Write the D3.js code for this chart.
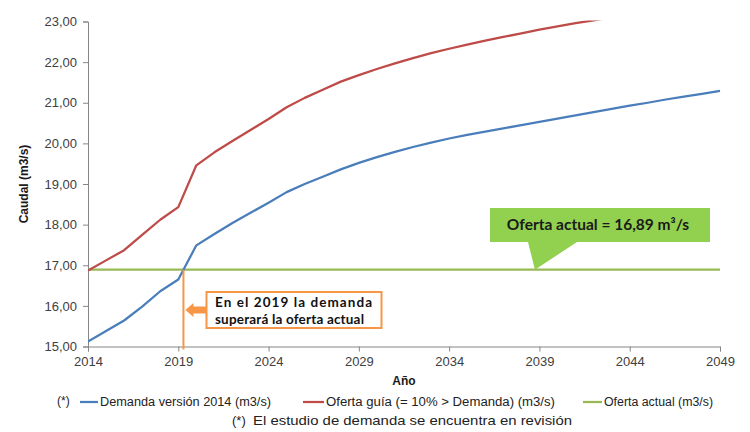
<!DOCTYPE html>
<html>
<head>
<meta charset="utf-8">
<script src="https://cdn.jsdelivr.net/npm/d3@7"></script>
<style>
  html, body { margin: 0; padding: 0; background: #fff; }
  svg { display: block; }
</style>
</head>
<body>
<svg id="chart" width="750" height="432"></svg>
<script>
// Years on the horizontal axis
const years = d3.range(2014, 2050);

// Demanda versión 2014 (m3/s)
const demanda = [
  15.12, 15.38, 15.64, 15.98, 16.36, 16.65, 17.49, 17.77, 18.04, 18.29,
  18.54, 18.80, 19.00, 19.18, 19.36, 19.52, 19.66, 19.79, 19.91, 20.02,
  20.12, 20.21, 20.29, 20.37, 20.45, 20.53, 20.61, 20.69, 20.77, 20.85,
  20.93, 21.00, 21.08, 21.15, 21.22, 21.29
];

// Oferta guía (= 10% > Demanda) (m3/s)
const ofertaGuia = [
  16.87, 17.12, 17.37, 17.75, 18.12, 18.43, 19.46, 19.78, 20.06, 20.33,
  20.60, 20.89, 21.12, 21.32, 21.52, 21.68, 21.83, 21.97, 22.10, 22.22,
  22.33, 22.43, 22.53, 22.62, 22.71, 22.80, 22.88, 22.96, 23.03, 23.10,
  23.17, 23.24, 23.31, 23.38, 23.45, 23.52
];

// Oferta actual (m3/s), constant over the period
const ofertaActual = 16.89;

// Axis ticks
const xTicks = [2014, 2019, 2024, 2029, 2034, 2039, 2044, 2049];
const yTicks = [15, 16, 17, 18, 19, 20, 21, 22, 23];

// Series names for the legend
const seriesNames = [
  "Demanda versión 2014 (m3/s)",
  "Oferta guía (= 10% > Demanda) (m3/s)",
  "Oferta actual (m3/s)"
];
const seriesColors = ["#4a7ebb", "#be4b48", "#98b954"];

(function draw() {
  const svg = d3.select("#chart");
  const mLeft = 88, mRight = 720, mTop = 21.5, mBottom = 346.5;

  const x = d3.scaleLinear().domain([2014, 2049]).range([mLeft, mRight]);
  const y = d3.scaleLinear().domain([15, 23]).range([mBottom, mTop]);

  const numFmt = v => d3.format(".2f")(v).replace(".", ",");

  // Clip area for the plotted series
  svg.append("defs").append("clipPath").attr("id", "plotClip")
    .append("rect")
    .attr("x", mLeft).attr("y", mTop - 1)
    .attr("width", mRight - mLeft + 2).attr("height", mBottom - mTop + 2);

  // Y axis
  const yAxis = svg.append("g")
    .attr("transform", `translate(${mLeft},0)`)
    .call(d3.axisLeft(y).tickValues(yTicks).tickFormat(numFmt).tickSize(5).tickPadding(6));
  // X axis
  const xAxis = svg.append("g")
    .attr("transform", `translate(0,${mBottom})`)
    .call(d3.axisBottom(x).tickValues(xTicks).tickFormat(d3.format("d")).tickSize(5).tickPadding(5));

  [yAxis, xAxis].forEach(g => {
    g.select(".domain").attr("stroke", "#868686").attr("stroke-width", 1);
    g.selectAll(".tick line").attr("stroke", "#868686");
    g.selectAll(".tick text")
      .attr("fill", "#404040")
      .style("font-family", "'Liberation Sans', Arial, sans-serif")
      .style("font-size", "13px");
  });

  // Axis titles
  svg.append("text")
    .attr("transform", `translate(28,${(mTop + mBottom) / 2}) rotate(-90)`)
    .attr("text-anchor", "middle")
    .style("font-family", "'Liberation Sans', Arial, sans-serif")
    .style("font-size", "12px").style("font-weight", "bold")
    .attr("fill", "#1a1a1a")
    .text("Caudal (m3/s)");

  svg.append("text")
    .attr("x", (mLeft + mRight) / 2).attr("y", 385)
    .attr("text-anchor", "middle")
    .style("font-family", "'Liberation Sans', Arial, sans-serif")
    .style("font-size", "12px").style("font-weight", "bold")
    .attr("fill", "#1a1a1a")
    .text("Año");

  // Series lines
  const line = d3.line().x((d, i) => x(years[i])).y(d => y(d));
  const plot = svg.append("g").attr("clip-path", "url(#plotClip)");

  plot.append("path")
    .datum(years.map(() => ofertaActual))
    .attr("d", line)
    .attr("fill", "none").attr("stroke", seriesColors[2]).attr("stroke-width", 2.25);

  plot.append("path")
    .datum(ofertaGuia)
    .attr("d", line)
    .attr("fill", "none").attr("stroke", seriesColors[1]).attr("stroke-width", 2.25)
    .attr("stroke-linejoin", "round");

  plot.append("path")
    .datum(demanda)
    .attr("d", line)
    .attr("fill", "none").attr("stroke", seriesColors[0]).attr("stroke-width", 2.25)
    .attr("stroke-linejoin", "round");

  // Year in which the demand first exceeds the current supply
  let crossYear = years[0];
  for (let i = 1; i < demanda.length; i++) {
    if (demanda[i - 1] < ofertaActual && demanda[i] >= ofertaActual) {
      crossYear = years[i - 1] + (ofertaActual - demanda[i - 1]) / (demanda[i] - demanda[i - 1]);
      break;
    }
  }
  const cx = x(crossYear);

  // Orange marker line at the crossing
  svg.append("line")
    .attr("x1", cx).attr("x2", cx)
    .attr("y1", y(ofertaActual)).attr("y2", mBottom + 3)
    .attr("stroke", "#f79646").attr("stroke-width", 2);

  // Orange arrow pointing to the marker line
  const arrowY = 310;
  svg.append("path")
    .attr("d", `M${cx + 2},${arrowY} L${cx + 10},${arrowY - 7} L${cx + 10},${arrowY - 3.5}
                L${cx + 23},${arrowY - 3.5} L${cx + 23},${arrowY + 3.5} L${cx + 10},${arrowY + 3.5}
                L${cx + 10},${arrowY + 7} Z`)
    .attr("fill", "#f79646");

  // Orange note box
  const boxX = 206.5, boxY = 292, boxW = 175, boxH = 36;
  svg.append("rect")
    .attr("x", boxX).attr("y", boxY).attr("width", boxW).attr("height", boxH)
    .attr("fill", "#fff").attr("stroke", "#f79646").attr("stroke-width", 2);

  const noteFont = "Lato, 'Open Sans', 'Liberation Sans', sans-serif";
  svg.append("text")
    .attr("x", boxX + 8.5).attr("y", boxY + 14.5)
    .attr("textLength", 157).attr("lengthAdjust", "spacing")
    .style("font-family", noteFont).style("font-size", "13.5px").style("font-weight", "bold")
    .attr("fill", "#111")
    .text(`En el ${Math.floor(crossYear)} la demanda`);
  svg.append("text")
    .attr("x", boxX + 8.5).attr("y", boxY + 32)
    .attr("textLength", 149).attr("lengthAdjust", "spacing")
    .style("font-family", noteFont).style("font-size", "13.5px").style("font-weight", "bold")
    .attr("fill", "#111")
    .text("superará la oferta actual");

  // Green callout for the current supply
  const cBoxX = 490, cBoxY = 208, cBoxW = 220, cBoxH = 34;
  const tipX = x(2038.75), tipY = y(ofertaActual);
  svg.append("path")
    .attr("d", `M${cBoxX},${cBoxY} H${cBoxX + cBoxW} V${cBoxY + cBoxH} H${cBoxX + 87}
                L${tipX},${tipY} L${cBoxX + 38},${cBoxY + cBoxH} H${cBoxX} Z`)
    .attr("fill", "#92d050");

  svg.append("text")
    .attr("x", 598).attr("y", cBoxY + 22)
    .attr("text-anchor", "middle")
    .style("font-family", noteFont).style("font-size", "15.5px").style("font-weight", "bold")
    .attr("fill", "#1a1a1a")
    .text(`Oferta actual = ${numFmt(ofertaActual)} m³/s`);

  // Legend
  const legFont = "'Liberation Sans Narrow', 'Liberation Sans', Arial, sans-serif";
  const legY = 406;
  svg.append("text")
    .attr("x", 57).attr("y", legY - 1)
    .style("font-family", "'Liberation Sans', Arial, sans-serif").style("font-size", "12px")
    .attr("fill", "#222").text("(*)");

  const legendItems = [
    { x0: 80, x1: 98, tx: 100, tl: 171 },
    { x0: 303, x1: 324, tx: 326, tl: 229 },
    { x0: 583, x1: 602, tx: 604, tl: 109 }
  ];
  legendItems.forEach((it, i) => {
    svg.append("line")
      .attr("x1", it.x0).attr("x2", it.x1)
      .attr("y1", legY - 4).attr("y2", legY - 4)
      .attr("stroke", seriesColors[i]).attr("stroke-width", 2.25);
    svg.append("text")
      .attr("x", it.tx).attr("y", legY)
      .attr("textLength", it.tl).attr("lengthAdjust", "spacingAndGlyphs")
      .style("font-family", legFont).style("font-size", "12px")
      .attr("fill", "#222")
      .text(seriesNames[i]);
  });

  // Footnote
  svg.append("text")
    .attr("x", 232).attr("y", 425)
    .style("font-family", "'Liberation Sans', Arial, sans-serif").style("font-size", "13px")
    .attr("fill", "#222").text("(*)");
  svg.append("text")
    .attr("x", 253).attr("y", 425)
    .attr("textLength", 319).attr("lengthAdjust", "spacingAndGlyphs")
    .style("font-family", "'Liberation Sans', Arial, sans-serif").style("font-size", "13.5px")
    .attr("fill", "#222").text("El estudio de demanda se encuentra en revisión");
})();
</script>
</body>
</html>
